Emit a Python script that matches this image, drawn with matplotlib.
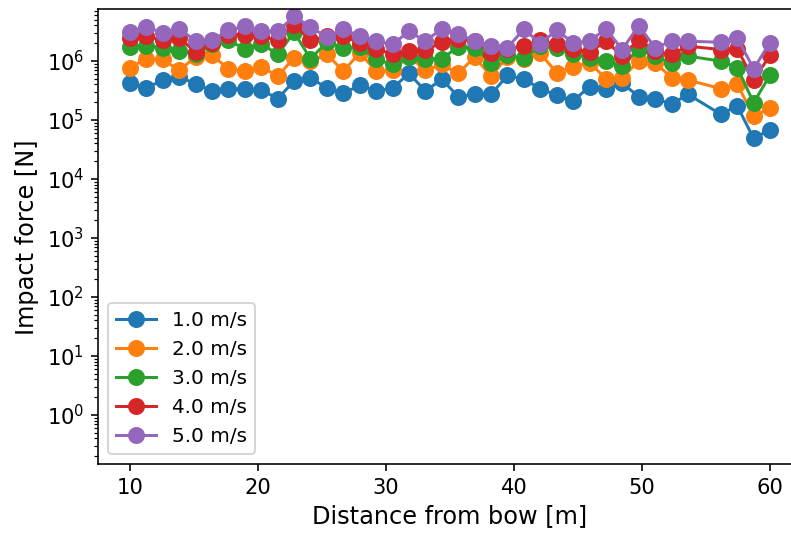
# Impact force along the hull for different impact speeds
from matplotlib import pyplot as plt

# distance from bow [m]
distance = [10.0, 11.28, 12.56, 13.85, 15.13, 16.41, 17.69, 18.97, 20.26, 21.54,
            22.82, 24.10, 25.38, 26.67, 27.95, 29.23, 30.51, 31.79, 33.08, 34.36,
            35.64, 36.92, 38.21, 39.49, 40.77, 42.05, 43.33, 44.62, 45.90, 47.18,
            48.46, 49.74, 51.03, 52.31, 53.59, 56.15, 57.44, 58.72, 60.0]

# impact force [N] per speed
force_1 = [4.18e5, 3.53e5, 4.69e5, 5.33e5, 4.13e5, 3.10e5, 3.40e5, 3.31e5, 3.22e5, 2.30e5,
           4.56e5, 5.21e5, 3.44e5, 2.83e5, 3.86e5, 3.10e5, 3.44e5, 6.15e5, 3.10e5, 4.88e5,
           2.49e5, 2.72e5, 2.72e5, 5.69e5, 4.88e5, 3.40e5, 2.62e5, 2.10e5, 3.67e5, 3.31e5,
           4.18e5, 2.49e5, 2.30e5, 1.85e5, 2.72e5, 1.25e5, 1.73e5, 4.87e4, 6.81e4]
force_2 = [7.68e5, 1.09e6, 1.06e6, 6.91e5, 1.18e6, 1.24e6, 7.39e5, 6.73e5, 7.98e5, 5.54e5,
           1.13e6, 9.81e5, 1.29e6, 6.73e5, 1.37e6, 6.73e5, 6.91e5, 1.21e6, 6.91e5, 8.73e5,
           6.15e5, 1.16e6, 5.54e5, 1.18e6, 1.09e6, 1.34e6, 6.32e5, 7.98e5, 9.33e5, 5.01e5,
           5.21e5, 9.92e5, 9.33e5, 5.21e5, 4.75e5, 3.40e5, 4.02e5, 1.17e5, 1.58e5]
force_3 = [1.71e6, 1.82e6, 1.67e6, 1.46e6, 1.29e6, 1.90e6, 2.22e6, 1.61e6, 1.97e6, 1.29e6,
           3.06e6, 1.09e6, 2.07e6, 1.67e6, 1.73e6, 1.06e6, 8.73e5, 1.16e6, 1.09e6, 1.09e6,
           1.73e6, 1.67e6, 9.33e5, 1.24e6, 1.13e6, 1.78e6, 1.67e6, 1.29e6, 1.13e6, 9.92e5,
           8.17e5, 1.61e6, 1.21e6, 9.07e5, 1.21e6, 9.92e5, 7.68e5, 1.97e5, 5.69e5]
force_4 = [2.46e6, 2.62e6, 2.24e6, 2.46e6, 1.41e6, 2.03e6, 2.80e6, 2.80e6, 2.62e6, 2.24e6,
           4.13e6, 2.24e6, 2.62e6, 2.62e6, 2.03e6, 1.61e6, 1.29e6, 1.46e6, 1.52e6, 2.07e6,
           2.37e6, 2.16e6, 1.37e6, 1.61e6, 1.78e6, 2.24e6, 1.90e6, 1.61e6, 1.41e6, 2.16e6,
           1.21e6, 2.30e6, 1.46e6, 1.29e6, 1.78e6, 1.56e6, 1.61e6, 4.75e5, 1.24e6]
force_5 = [3.06e6, 3.77e6, 2.99e6, 3.53e6, 2.16e6, 2.24e6, 3.31e6, 3.86e6, 3.18e6, 3.18e6,
           5.69e6, 3.77e6, 2.52e6, 3.49e6, 2.62e6, 2.16e6, 1.90e6, 3.18e6, 2.16e6, 3.53e6,
           2.91e6, 2.16e6, 1.82e6, 1.67e6, 3.49e6, 1.97e6, 3.31e6, 2.03e6, 2.16e6, 3.49e6,
           1.56e6, 3.97e6, 1.67e6, 2.16e6, 2.16e6, 2.07e6, 2.46e6, 7.39e5, 2.03e6]

speeds = ['1.0 m/s', '2.0 m/s', '3.0 m/s', '4.0 m/s', '5.0 m/s']
forces = [force_1, force_2, force_3, force_4, force_5]

fig = plt.figure(figsize=(791 / 144, 535 / 144), dpi=144)
# axes run past the right edge of the picture (reference is cropped there)
ax = fig.add_axes([98 / 791, 70.7 / 535, 704 / 791, 455 / 535])

for f, lab in zip(forces, speeds):
    ax.plot(distance, f, 'o-', markersize=7.5, label=lab)

ax.set_yscale('log')
ax.set_ylim(0.146, 7.5e6)
ax.tick_params(labelsize=10.5)
ax.set_xlabel('Distance from bow [m]', fontsize=12, labelpad=3)
ax.set_ylabel('Impact force [N]', fontsize=12)
ax.legend(loc='lower left', fontsize=10)

fig.savefig('out.png', dpi=144)
